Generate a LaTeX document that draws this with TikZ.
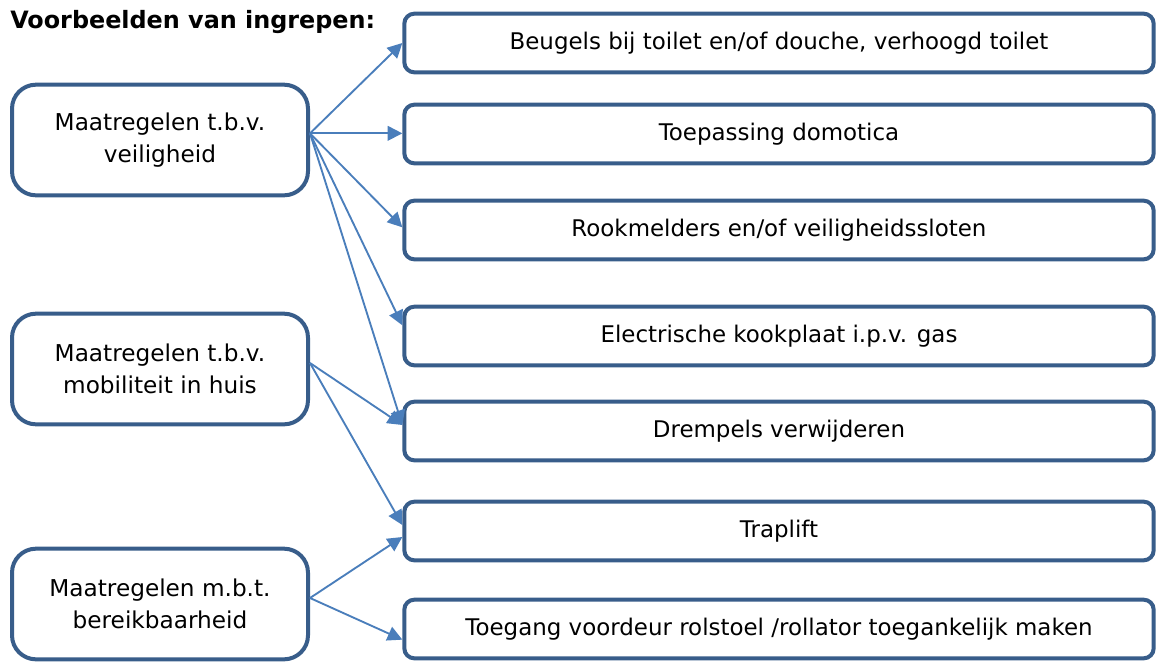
\documentclass[tikz,border=0pt]{standalone}
\usepackage{fontspec}
\setmainfont{DejaVu Sans}
\usetikzlibrary{arrows.meta}
\definecolor{boxblue}{RGB}{56,93,138}
\definecolor{arrowblue}{RGB}{74,126,187}
\begin{document}
\begin{tikzpicture}[x=0.75pt,y=-0.75pt,
    measure/.style={draw=boxblue,line width=3pt,rounded corners=18pt,fill=white,
      minimum width=222pt,minimum height=83pt,inner sep=0pt,align=center,
      font=\fontsize{17.4}{24.5}\selectfont},
    example/.style={draw=boxblue,line width=3pt,rounded corners=7.5pt,fill=white,
      minimum width=562pt,minimum height=44pt,inner sep=0pt,
      font=\fontsize{17.2}{20}\selectfont},
    link/.style={draw=arrowblue,line width=1.4pt,-{Triangle[length=11pt,width=11pt]}}]
    \useasboundingbox (0,0) rectangle (1157,661);

    \node[anchor=west,inner sep=0pt,font=\bfseries\fontsize{17.9}{20}\selectfont] (title) at (10,22) {Voorbeelden van ingrepen:};

    % left column
    \node[measure] (safety) at (160,140) {Maatregelen t.b.v.\\veiligheid};
    \node[measure] (mobility) at (160,369) {Maatregelen t.b.v.\\mobiliteit in huis};
    \node[measure] (access) at (160,604) {Maatregelen m.b.t.\\bereikbaarheid};

    % right column
    \node[example] (grips) at (779,43) {Beugels bij toilet en/of douche, verhoogd toilet};
    \node[example] (domotics) at (779,134) {Toepassing domotica};
    \node[example] (smoke) at (779,230) {Rookmelders en/of veiligheidssloten};
    \node[example] (stove) at (779,336) {Electrische kookplaat i.p.v. gas};
    \node[example] (thresholds) at (779,431) {Drempels verwijderen};
    \node[example] (stairlift) at (779,531) {Traplift};
    \node[example] (entrance) at (779,629) {Toegang voordeur rolstoel /rollator toegankelijk maken};

    \draw[link] ([yshift=5pt]safety.east) -- (grips.west);
    \draw[link] ([yshift=5pt]safety.east) -- ([yshift=0.5pt]domotics.west);
    \draw[link] ([yshift=5pt]safety.east) -- ([yshift=2pt]smoke.west);
    \draw[link] ([yshift=5pt]safety.east) -- ([yshift=8pt]stove.west);
    \draw[link] ([yshift=5pt]safety.east) -- ([yshift=4.5pt]thresholds.west);

    \draw[link] ([yshift=4.5pt]mobility.east) -- ([yshift=4.5pt]thresholds.west);
    \draw[link] ([yshift=4.5pt]mobility.east) -- ([yshift=4.5pt]stairlift.west);

    \draw[link] ([yshift=4.5pt]access.east) -- ([yshift=-4.5pt]stairlift.west);
    \draw[link] ([yshift=4.5pt]access.east) -- ([yshift=-8pt]entrance.west);
\end{tikzpicture}
\end{document}
